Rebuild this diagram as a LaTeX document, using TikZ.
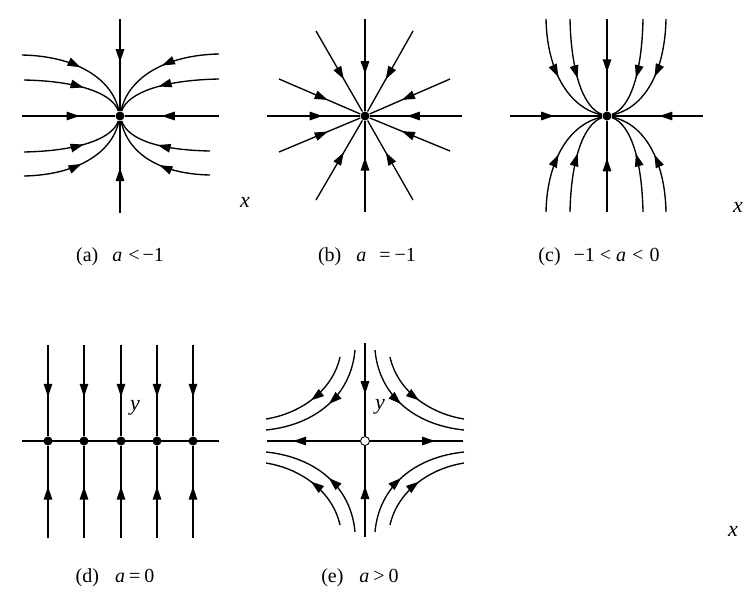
\documentclass[tikz,border=0pt]{standalone}
\usepackage{fontspec}
\setmainfont{Liberation Serif}
\usetikzlibrary{arrows.meta,decorations.markings}
\begin{document}
\begin{tikzpicture}[x=1pt,y=-1pt,line width=1.35pt,
  flow/.style={postaction={decorate,decoration={markings,
      mark=at position #1 with {\arrow{Triangle[length=13pt,width=8.5pt]}}}}},
  flow/.default=0.5,
  dot/.style={circle,fill=black,draw=none,inner sep=0pt,minimum size=9pt},
  odot/.style={circle,fill=white,draw=black,line width=0.9pt,inner sep=0pt,minimum size=9pt},
  lbl/.style={font=\fontsize{20}{22}\selectfont,inner sep=0pt},
  axl/.style={font=\itshape\fontsize{22}{24}\selectfont,inner sep=0pt}]
\useasboundingbox (0,0) rectangle (754,595);

% ---------- (a) ----------
\node[dot] (ca) at (120,116) {};
\draw[flow=0.47] (120,19) -- (ca);
\draw[flow=0.49] (120,213) -- (ca);
\draw[flow=0.62] (22,116) -- (ca);
\draw[flow=0.61] (219,116) -- (ca);
\draw[flow=0.5] (22,55) .. controls (75,56) and (112,78) .. (ca);
\draw[flow=0.58] (24,80) .. controls (75,81) and (112,92) .. (ca);
\draw[flow=0.58] (24,152) .. controls (75,151) and (112,140) .. (ca);
\draw[flow=0.5] (24,176) .. controls (75,175) and (112,154) .. (ca);
\draw[flow=0.48] (219,54) .. controls (165,55) and (128,78) .. (ca);
\draw[flow=0.57] (219,79) .. controls (165,80) and (128,92) .. (ca);
\draw[flow=0.54] (210,151) .. controls (160,150) and (128,140) .. (ca);
\draw[flow=0.46] (210,175) .. controls (160,174) and (128,154) .. (ca);
\node[axl] (xa) at (245,202) {x};
\node[lbl] (la) at (120,257) {(a)\hspace{0.7em}\textit{a}\hspace{0.3em}<\hspace{0.15em}−1};

% ---------- (b) ----------
\node[dot] (cb) at (365,116) {};
\foreach \p in {(365,19),(365,212),(267,116),(462,116),(316,31),(413,31),
                (279,79),(450,79),(279,152),(450,151),(316,200),(413,200)}
  \draw[flow=0.6] \p -- (cb);
\node[lbl] (lb) at (367,257) {(b)\hspace{0.75em}\textit{a}\hspace{0.65em}=\hspace{0.2em}−1};

% ---------- (c) ----------
\node[dot] (cc) at (607,116) {};
\draw[flow=0.58] (607,19) -- (cc);
\draw[flow=0.59] (607,212) -- (cc);
\draw[flow=0.48] (510,116) -- (cc);
\draw[flow=0.48] (703,116) -- (cc);
\draw[flow=0.5] (546,19) .. controls (547,71) and (569,108) .. (cc);
\draw[flow=0.57] (570,19) .. controls (571,71) and (583,108) .. (cc);
\draw[flow=0.57] (643,19) .. controls (642,71) and (631,108) .. (cc);
\draw[flow=0.5] (666,19) .. controls (665,71) and (645,108) .. (cc);
\draw[flow=0.5] (546,212) .. controls (547,161) and (569,124) .. (cc);
\draw[flow=0.57] (570,212) .. controls (571,161) and (583,124) .. (cc);
\draw[flow=0.57] (643,212) .. controls (642,161) and (631,124) .. (cc);
\draw[flow=0.5] (666,212) .. controls (665,161) and (645,124) .. (cc);
\node[axl] (xc) at (738,207) {x};
\node[lbl] (lc) at (599,257) {(c)\hspace{0.65em}−1\hspace{0.25em}<\hspace{0.25em}\textit{a}\hspace{0.3em}<\hspace{0.3em}0};

% ---------- (d) ----------
\draw (22,441) -- (219,441);
\foreach \xx/\n in {48/1,84/2,121/3,157/4,193/5}{
  \node[dot] (cd\n) at (\xx,441) {};
  \draw[flow=0.57] (\xx,345) -- (cd\n);
  \draw[flow=0.56] (\xx,538) -- (cd\n);
}
\node[axl] (yd) at (135,408) {y};
\node[lbl] (ld) at (115,578) {(d)\hspace{0.8em}\textit{a}\hspace{0.2em}=\hspace{0.2em}0};

% ---------- (e) ----------
\node[odot] (ce) at (365,441) {};
\draw[flow=0.55] (365,343) -- (ce);
\draw[flow=0.56] (365,537) -- (ce);
\draw[flow=0.72] (ce) -- (267,441);
\draw[flow=0.70] (ce) -- (463,441);
\foreach \sx/\sy in {1/1,-1/1,1/-1,-1/-1}{
  \begin{scope}[shift={(365,441)},xscale=\sx,yscale=\sy]
    \draw[flow=0.52] (-25,-84) .. controls (-32,-52) and (-62,-28) .. (-99,-22);
    \draw[flow=0.47] (-10,-91) .. controls (-14,-45) and (-50,-16) .. (-99,-11);
  \end{scope}
}
\node[axl] (ye) at (380,407) {y};
\node[lbl] (le) at (360,578) {(e)\hspace{0.8em}\textit{a}\hspace{0.2em}>\hspace{0.2em}0};
\node[axl] (xe) at (733,531) {x};
\end{tikzpicture}
\end{document}
